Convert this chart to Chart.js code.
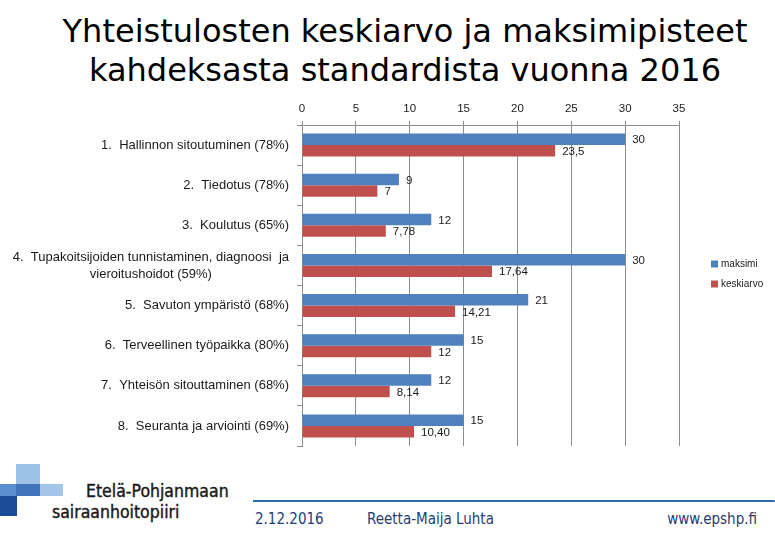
<!DOCTYPE html>
<html><head><meta charset="utf-8">
<script src="https://cdn.jsdelivr.net/npm/chart.js@4.4.1/dist/chart.umd.min.js"></script>
<style>
html,body{margin:0;padding:0;background:#fff;width:775px;height:538px;overflow:hidden;}
body{position:relative;}
#title{position:absolute;left:0;top:12px;width:810px;text-align:center;font-family:"DejaVu Sans",sans-serif;font-size:32px;line-height:39px;color:#000;white-space:nowrap;}
#wrap{position:absolute;left:0;top:90px;width:775px;height:370px;}
.blk{position:absolute;}
.ft{position:absolute;font-family:"Liberation Sans Narrow","DejaVu Sans Condensed",sans-serif;color:#1f3d73;white-space:nowrap;}
.logo{position:absolute;font-family:"DejaVu Sans Condensed",sans-serif;font-size:17.5px;color:#1a1a1a;white-space:nowrap;-webkit-text-stroke:0.4px #1a1a1a;}
#line{position:absolute;left:253px;top:500px;width:522px;height:2px;background:#2f6aa8;border-radius:0 2px 2px 0;}
</style></head>
<body>
<div id="title">Yhteistulosten keskiarvo ja maksimipisteet<br>kahdeksasta standardista vuonna 2016</div>
<div id="wrap"><canvas id="c"></canvas></div>

<div class="blk" style="left:16px;top:464px;width:24px;height:20px;background:#9cc2e5;"></div>
<div class="blk" style="left:0px;top:484px;width:16px;height:12px;background:#5b8fcf;"></div>
<div class="blk" style="left:16px;top:484px;width:24px;height:12px;background:#3f74b8;"></div>
<div class="blk" style="left:40px;top:484px;width:23px;height:12px;background:#a3c6e8;"></div>
<div class="blk" style="left:0px;top:496px;width:17px;height:20px;background:#1c4b95;"></div>
<div class="logo" style="left:86px;top:481px;">Etelä-Pohjanmaan</div>
<div class="logo" style="left:52px;top:502px;">sairaanhoitopiiri</div>
<div id="line"></div>
<div class="ft" style="left:255px;top:510px;font-size:15px;">2.12.2016</div>
<div class="ft" style="left:367px;top:510px;font-size:15px;">Reetta-Maija Luhta</div>
<div class="ft" style="right:18px;top:510px;font-size:15px;">www.epshp.fi</div>

<script>
const categories = [
  ['1.  Hallinnon sitoutuminen (78%)'],
  ['2.  Tiedotus (78%)'],
  ['3.  Koulutus (65%)'],
  ['4.  Tupakoitsijoiden tunnistaminen, diagnoosi  ja', 'vieroitushoidot (59%)'],
  ['5.  Savuton ympäristö (68%)'],
  ['6.  Terveellinen työpaikka (80%)'],
  ['7.  Yhteisön sitouttaminen (68%)'],
  ['8.  Seuranta ja arviointi (69%)']
];
const maksimi = [30, 9, 12, 30, 21, 15, 12, 15];
const keskiarvo = [23.5, 7, 7.78, 17.64, 14.21, 12, 8.14, 10.40];
const maksimiLabels = ['30', '9', '12', '30', '21', '15', '12', '15'];
const keskiarvoLabels = ['23,5', '7', '7,78', '17,64', '14,21', '12', '8,14', '10,40'];
const xTicks = [0, 5, 10, 15, 20, 25, 30, 35];

const FONT = '"Liberation Sans", Arial, sans-serif';
const GRID = '#8c8c8c';

const catLabelPlugin = {
  id: 'catLabels',
  afterDraw(chart) {
    const ctx = chart.ctx, y = chart.scales.y;
    ctx.save();
    ctx.font = '13px ' + FONT;
    ctx.fillStyle = '#1a1a1a';
    ctx.textBaseline = 'middle';
    const xr = 289;
    categories.forEach((lines, i) => {
      const cy = y.getPixelForValue(i);
      if (lines.length === 1) {
        ctx.textAlign = 'right';
        ctx.fillText(lines[0], xr, cy);
      } else {
        const w = ctx.measureText(lines[0]).width;
        const cx = xr - w / 2;
        const lh = 17;
        ctx.textAlign = 'center';
        lines.forEach((t, k) => ctx.fillText(t, cx, cy + (k - (lines.length - 1) / 2) * lh));
      }
    });
    ctx.restore();
  }
};

const valueLabelPlugin = {
  id: 'valueLabels',
  afterDatasetsDraw(chart) {
    const ctx = chart.ctx;
    const lbls = [maksimiLabels, keskiarvoLabels];
    ctx.save();
    ctx.font = '11.5px ' + FONT;
    ctx.fillStyle = '#1a1a1a';
    ctx.textBaseline = 'middle';
    ctx.textAlign = 'left';
    chart.data.datasets.forEach((ds, d) => {
      chart.getDatasetMeta(d).data.forEach((bar, i) => {
        ctx.fillText(lbls[d][i], bar.x + 7, bar.y + 1);
      });
    });
    ctx.restore();
  }
};

const legendPlugin = {
  id: 'sideLegend',
  afterDraw(chart) {
    const ctx = chart.ctx;
    ctx.save();
    ctx.font = '10px ' + FONT;
    ctx.textBaseline = 'middle';
    ctx.textAlign = 'left';
    const top = chart.chartArea.top;
    chart.data.datasets.forEach((ds, d) => {
      const cy = top + 139 + d * 20;
      ctx.fillStyle = ds.backgroundColor;
      ctx.fillRect(711, cy - 3.5, 7, 7);
      ctx.fillStyle = '#1a1a1a';
      ctx.fillText(ds.label, 721, cy);
    });
    ctx.restore();
  }
};

new Chart(document.getElementById('c'), {
  type: 'bar',
  data: {
    labels: categories.map(l => l.join(' ')),
    datasets: [
      { label: 'maksimi', data: maksimi, backgroundColor: '#4f81bd', categoryPercentage: 0.575, barPercentage: 1.0 },
      { label: 'keskiarvo', data: keskiarvo, backgroundColor: '#c0504d', categoryPercentage: 0.575, barPercentage: 1.0 }
    ]
  },
  options: {
    indexAxis: 'y',
    responsive: true,
    maintainAspectRatio: false,
    animation: false,
    events: [],
    layout: { padding: { left: 0, right: 96, top: 0, bottom: 14 } },
    plugins: { legend: { display: false }, tooltip: { enabled: false }, title: { display: false } },
    scales: {
      x: {
        position: 'top',
        min: 0, max: 35,
        afterBuildTicks(s) { s.ticks = xTicks.map(v => ({ value: v })); },
        afterFit(s) { s.height = 35; },
        ticks: { font: { size: 11.5, family: FONT }, color: '#1a1a1a', padding: 5 },
        grid: { color: GRID, tickLength: 4, drawTicks: true },
        border: { color: GRID }
      },
      y: {
        afterFit(s) { s.width = 302; },
        ticks: { display: false },
        grid: { drawOnChartArea: false, drawTicks: true, tickLength: 5, color: GRID, offset: true },
        border: { color: GRID }
      }
    }
  },
  plugins: [catLabelPlugin, valueLabelPlugin, legendPlugin]
});
</script>
</body></html>
